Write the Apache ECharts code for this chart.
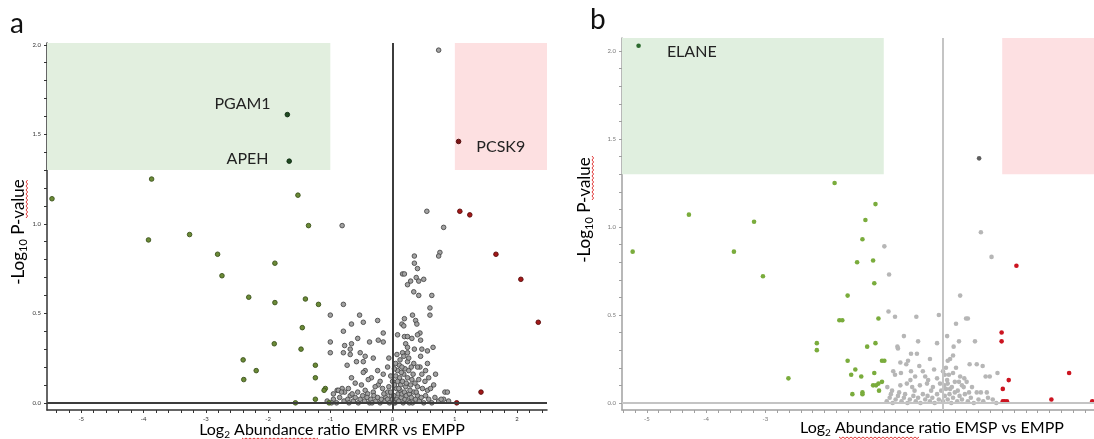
<!DOCTYPE html>
<html>
<head>
<meta charset="utf-8">
<script src="https://cdn.jsdelivr.net/npm/echarts@6/dist/echarts.min.js"></script>
<style>
  html, body { margin: 0; padding: 0; background: #fff; }
  #chart { width: 1094px; height: 439px; }
</style>
</head>
<body>
<div id="chart"></div>
<script>
// ---- Panel a: EMRR vs EMPP (log2 ratio, -log10 p) ----
const aGray = [
  [0.74,1.97],[-0.81,0.99],[0.55,1.07],[0.82,0.98],[-0.79,0.55],
  [0.76,0.84],[0.74,0.82],[0.35,0.82],[0.35,0.78],[0.40,0.75],[0.16,0.72],[0.19,0.72],[0.38,0.70],[0.50,0.69],
  [0.29,0.68],[0.42,0.68],[0.24,0.66],[0.34,0.62],[0.42,0.60],[0.63,0.60],[0.60,0.53],
  [0.60,0.49],[-1.00,0.49],[-0.53,0.49],[-0.47,0.45],[-0.66,0.44],[-0.24,0.46],[0.32,0.49],[0.19,0.47],
  [0.37,0.46],[0.39,0.44],[0.15,0.44],[0.18,0.43],[-0.79,0.40],[-0.15,0.39],[0.08,0.38],[0.44,0.39],
  [0.40,0.38],[0.19,0.37],[0.24,0.37],[0.31,0.36],[-0.56,0.36],[-1.00,0.34],[-0.23,0.35],[-0.15,0.34],
  [-0.37,0.34],[-0.77,0.32],[-0.66,0.33],[0.45,0.35],[0.21,0.33],[0.24,0.31],[0.35,0.30],[0.47,0.30],
  [0.56,0.29],[0.65,0.31],[-0.68,0.30],[-1.00,0.28],[-0.79,0.28],[-0.68,0.27],[-0.52,0.28],[-0.44,0.26],
  [-0.31,0.25],[0.16,0.28],[0.24,0.28],[0.18,0.26],[0.45,0.26],[-0.58,0.23],[-0.47,0.23],[-0.06,0.25],
  [0.24,0.23],[0.34,0.22],[0.56,0.22],[-0.73,0.21],[0.05,0.22],[0.11,0.21],[0.44,0.20],[0.40,0.20],
  [-0.44,0.18],[-0.24,0.18],[-0.08,0.20],[0.53,0.18],[0.69,0.16],[0.47,0.16],[-0.47,0.17],[-0.15,0.16],
  [-0.66,0.14],[-0.34,0.14],[0.11,0.14],[0.18,0.16],[0.24,0.14],[0.31,0.13],[-0.39,0.13],[-0.60,0.11],
  [-0.23,0.10],[-0.16,0.08],[0.08,0.12],[0.13,0.10],[0.21,0.09],[0.29,0.10],[0.40,0.09],[0.48,0.08],
  [0.56,0.07],[0.61,0.08],[0.84,0.06],[0.88,0.06],[-0.89,0.07],[-0.81,0.08],[-0.77,0.06],[-0.56,0.06],
  [-0.44,0.07],[-0.40,0.05],[-0.31,0.06],[-0.08,0.06],[-0.02,0.04],[-0.11,0.03],[0.82,0.02],[0.90,0.01],
  [-0.87,0.07],[-0.82,0.06],
  [-1.05,0.01],[-0.95,0.02],[-0.90,0.00],[-0.85,0.03],[-0.78,0.01],[-0.72,0.02],[-0.68,0.04],[-0.63,0.01],
  [-0.60,0.03],[-0.55,0.00],[-0.52,0.02],[-0.48,0.04],[-0.45,0.01],[-0.41,0.03],[-0.37,0.00],[-0.35,0.02],
  [-0.30,0.04],[-0.27,0.01],[-0.24,0.03],[-0.20,0.00],[-0.18,0.02],[-0.14,0.05],[-0.12,0.01],[-0.08,0.02],
  [-0.05,0.00],[-0.03,0.06],[0.00,0.02],[0.02,0.04],[0.04,0.00],[0.06,0.08],[0.07,0.02],[0.09,0.05],
  [0.10,0.01],[0.12,0.07],[0.14,0.03],[0.15,0.05],[0.17,0.00],[0.19,0.06],[0.20,0.02],[0.22,0.04],
  [0.25,0.01],[0.27,0.05],[0.30,0.03],[0.32,0.00],[0.34,0.06],[0.37,0.02],[0.40,0.04],[0.43,0.01],
  [0.46,0.03],[0.50,0.00],[0.53,0.04],[0.58,0.02],[0.63,0.00],[0.68,0.03],[0.74,0.01],[0.78,0.02],
  [-0.98,0.00],[-0.70,0.00],[-0.33,0.00],[0.02,0.00],[0.27,0.00],
  [0.03,0.10],[0.05,0.15],[0.08,0.18],[0.10,0.08],[0.12,0.24],[0.14,0.17],[0.16,0.12],[0.20,0.19],
  [0.22,0.11],[0.26,0.18],[0.28,0.07],[0.33,0.16],[0.36,0.11],[0.38,0.06],[0.42,0.13],[0.03,0.19],
  [0.00,0.12],[-0.03,0.15],[-0.06,0.09],[0.07,0.27],[0.26,0.25],[0.30,0.20],[0.15,0.20],[0.52,0.12],
  [0.58,0.14],[0.66,0.10],[-0.20,0.12],[-0.28,0.09],[-0.50,0.10],[-0.65,0.05],[-0.95,0.05],[-0.71,0.08]
];
const aGreen = [
  [-5.47,1.14],[-3.87,1.25],[-1.52,1.16],[-3.92,0.91],[-3.26,0.94],[-2.81,0.83],[-2.74,0.71],[-2.31,0.59],
  [-1.89,0.78],[-1.89,0.56],[-1.90,0.33],[-2.40,0.24],[-2.19,0.18],[-2.39,0.13],[-1.56,0.00],[-1.35,0.99],
  [-1.40,0.58],[-1.19,0.55],[-1.45,0.42],[-1.47,0.30],[-1.24,0.21],[-1.24,0.14],[-1.08,0.08],[-1.10,0.07],
  [-1.24,0.02],[-1.02,0.00]
];
const aRed = [[1.08,1.07],[1.24,1.05],[1.66,0.83],[2.06,0.69],[2.34,0.45],[1.42,0.06],[1.03,0.00]];
const aDown = [{ name: 'PGAM1', value: [-1.69, 1.61] }, { name: 'APEH', value: [-1.66, 1.35] }];
const aUp = [{ name: 'PCSK9', value: [1.06, 1.46] }];

// ---- Panel b: EMSP vs EMPP ----
const bGray = [
  [-0.99,0.89],[-0.91,0.73],[0.64,0.97],[0.82,0.83],[-0.92,0.52],[-0.81,0.49],[-0.45,0.49],[-0.07,0.50],
  [0.29,0.61],[0.39,0.48],[0.42,0.48],[0.22,0.45],[0.07,0.38],[0.54,0.35],[0.27,0.35],[0.18,0.32],
  [-0.10,0.34],[-0.42,0.35],[-0.66,0.38],[-0.77,0.32],[-0.44,0.28],[-0.54,0.28],[-0.76,0.31],[-0.22,0.25],
  [0.12,0.25],[0.08,0.24],[0.17,0.27],[-0.72,0.23],[-0.59,0.24],[-0.40,0.21],[-0.62,0.22],[0.45,0.22],
  [0.57,0.22],[0.67,0.21],[-0.15,0.19],[-0.34,0.18],[-0.54,0.18],[-0.84,0.18],[-0.81,0.16],[-0.71,0.17],
  [-0.47,0.15],[-0.30,0.15],[0.03,0.16],[0.17,0.17],[0.29,0.15],[0.72,0.15],[0.79,0.15],[0.92,0.17],
  [0.35,0.09],[0.64,0.06],[0.84,0.02],
  [-0.94,0.09],[-0.86,0.07],[-0.72,0.10],[-0.61,0.11],[-0.74,0.06],[-0.52,0.09],[-0.39,0.10],[-0.27,0.11],
  [-0.17,0.09],[-0.05,0.11],[0.07,0.13],[0.08,0.11],[0.15,0.09],[0.20,0.12],[0.25,0.07],[0.32,0.10],
  [0.40,0.12],[0.49,0.09],[0.57,0.06],[0.74,0.06],[-0.64,0.05],
  [-0.95,0.01],[-0.90,0.03],[-0.85,0.00],[-0.80,0.02],[-0.76,0.04],[-0.70,0.01],[-0.66,0.03],[-0.60,0.00],
  [-0.56,0.02],[-0.50,0.04],[-0.46,0.01],[-0.42,0.03],[-0.38,0.00],[-0.34,0.05],[-0.30,0.02],[-0.26,0.04],
  [-0.22,0.01],[-0.18,0.03],[-0.14,0.00],[-0.10,0.05],[-0.07,0.02],[-0.03,0.07],[0.00,0.01],[0.03,0.04],
  [0.05,0.08],[0.08,0.02],[0.11,0.05],[0.14,0.00],[0.17,0.03],[0.20,0.06],[0.24,0.01],[0.28,0.04],
  [0.32,0.02],[0.37,0.05],[0.42,0.01],[0.47,0.03],[0.52,0.00],[0.60,0.02],[0.68,0.01],[0.76,0.03],
  [0.90,0.00],[-0.88,0.05],[-0.48,0.07],[-0.20,0.07],[0.02,0.10],[0.12,0.08],[0.27,0.12],[0.44,0.06],
  [-0.10,0.14],[0.00,0.18],[0.05,0.20],[0.10,0.16],[-0.25,0.13],[-0.55,0.13],[0.22,0.20],[0.36,0.14]
];
const bGreen = [
  [-4.29,1.07],[-1.83,1.25],[-5.24,0.86],[-3.53,0.86],[-3.19,1.03],[-3.04,0.72],[-1.45,0.80],[-1.61,0.61],
  [-1.75,0.47],[-1.70,0.47],[-2.13,0.34],[-2.13,0.30],[-2.61,0.14],[-1.61,0.24],[-1.48,0.19],[-1.55,0.16],
  [-1.53,0.05],[-1.14,1.13],[-1.31,1.04],[-1.36,0.93],[-1.18,0.81],[-1.16,0.68],[-1.09,0.48],[-1.28,0.32],
  [-1.14,0.34],[-1.03,0.24],[-0.99,0.24],[-1.38,0.15],[-1.16,0.17],[-1.18,0.10],[-1.13,0.10],[-1.09,0.11],
  [-1.03,0.12],[-1.08,0.07],[-1.36,0.06],[-1.36,0.05]
];
const bRed = [
  [1.24,0.78],[0.99,0.40],[0.99,0.35],[1.11,0.13],[1.01,0.08],[1.01,0.01],[1.04,0.01],[1.08,0.01],
  [2.13,0.17],[1.83,0.02],[2.52,0.01]
];
const bDown = [{ name: 'ELANE', value: [-5.14, 2.03] }];
const bNear = [[0.61, 1.39]];

// Thresholds: |log2 ratio| > 1 and p < 0.05
const foldCut = [-1, 1];
const pCut = 1.3;

// Axis ranges and tick labels
const aX = { min: -5.55, max: 2.48 }, aY = { min: -0.04, max: 2.01 };
const bX = { min: -5.42, max: 2.55 }, bY = { min: -0.04, max: 2.074 };
const aXLabels = [-5, -4, -3, -2, -1, 0, 1, 2];
const bXLabels = [-5, -4, -3];
const yLabels = [0, 0.5, 1, 1.5, 2];

function steps(from, to, step) {
  const out = [];
  for (let v = from; v <= to + 1e-9; v += step) out.push(Math.round(v * 100) / 100);
  return out;
}

const FONT = 'Lato, "Open Sans", sans-serif';

function axes(gi, xr, yr, xLabels, axisColor, labelColor) {
  const x = {
    type: 'value', gridIndex: gi, min: xr.min, max: xr.max,
    axisLine: { show: true, onZero: false, lineStyle: { color: axisColor, width: 1.5 } },
    axisTick: { show: true, length: 3, customValues: steps(-5.4, 2.4, 0.2), lineStyle: { color: axisColor } },
    axisLabel: { customValues: xLabels, fontSize: 6, color: labelColor, margin: 6, fontFamily: FONT },
    splitLine: { show: false }
  };
  const y = {
    type: 'value', gridIndex: gi, min: yr.min, max: yr.max,
    axisLine: { show: true, onZero: false, lineStyle: { color: axisColor, width: 1.5 } },
    axisTick: { show: true, length: 3, customValues: steps(0, 2.0, 0.1), lineStyle: { color: axisColor } },
    axisLabel: { customValues: yLabels, fontSize: 6, color: labelColor, margin: 6, fontFamily: FONT,
                 formatter: v => v.toFixed(1) },
    splitLine: { show: false }
  };
  return [x, y];
}

const [ax, ay] = axes(0, aX, aY, aXLabels, '#333', '#333');
const [bx, by] = axes(1, bX, bY, bXLabels, '#a0a0a0', '#777');

function dots(gi, data, size, fill, border, extra) {
  return Object.assign({
    type: 'scatter', xAxisIndex: gi, yAxisIndex: gi, data: data,
    symbolSize: size, silent: true,
    itemStyle: { color: fill, borderColor: border, borderWidth: border ? 0.9 : 0, opacity: 1 }
  }, extra || {});
}

function zeroLines(color) {
  return {
    silent: true, symbol: 'none', animation: false,
    label: { show: false },
    lineStyle: { color: color, width: 2, type: 'solid' },
    data: [{ xAxis: 0 }, { yAxis: 0 }]
  };
}

function regions(xr, yr, green, pink) {
  return {
    silent: true,
    data: [
      [{ xAxis: xr.min, yAxis: pCut, itemStyle: { color: green } }, { xAxis: foldCut[0], yAxis: yr.max }],
      [{ xAxis: foldCut[1], yAxis: pCut, itemStyle: { color: pink } }, { xAxis: xr.max, yAxis: yr.max }]
    ]
  };
}

const labelFont = { fontFamily: FONT, fontSize: 16, color: '#222' };

function wavy(x0, y0, len, vertical) {
  const pts = [];
  for (let i = 0; i <= len; i += 2) {
    const o = (i / 2) % 2 ? 1.6 : 0;
    pts.push(vertical ? [x0 + o, y0 - i] : [x0 + i, y0 + o]);
  }
  return pts;
}

function title(x, y, tail, rot) {
  return {
    type: 'text', x: x, y: y, rotation: rot || 0,
    style: {
      text: '{m|' + (rot ? '-' : '') + 'Log}{s|' + (rot ? '10' : '2') + '}{m|' + tail + '}',
      align: 'center', verticalAlign: 'middle',
      rich: {
        m: { fontFamily: FONT, fontSize: rot ? 17 : 16, color: '#111', lineHeight: 22 },
        s: { fontFamily: FONT, fontSize: rot ? 11 : 10, color: '#111', lineHeight: 22, padding: [9, 0, 0, 0] }
      }
    }
  };
}

function squiggle(points) {
  return { type: 'polyline', shape: { points: points }, style: { stroke: '#e23b3b', lineWidth: 1, fill: null } };
}

const option = {
  animation: false,
  backgroundColor: '#fff',
  grid: [
    { left: 47, top: 43, width: 500, height: 367 },
    { left: 622, top: 38, width: 472, height: 372 }
  ],
  xAxis: [ax, bx],
  yAxis: [ay, by],
  series: [
    dots(0, aGray, 4.6, '#a2a2a2', '#4a4a4a', { markArea: regions(aX, aY, '#e2efdf', '#fde0e1'), markLine: zeroLines('#3c3c3c') }),
    dots(0, aGreen, 4.6, '#6b8a36', '#3b521c'),
    dots(0, aRed, 4.6, '#a31818', '#5a0c0c'),
    dots(0, aDown, 4.6, '#1f4a21', '#102a12', {
      label: { show: true, position: 'left', ...labelFont, formatter: p => p.name },
      data: [
        Object.assign({}, aDown[0], { label: { offset: [-9, -11] } }),
        Object.assign({}, aDown[1], { label: { offset: [-13, -2] } })
      ]
    }),
    dots(0, aUp, 4.6, '#7c1414', '#4a0808', {
      label: { show: true, position: 'right', offset: [10, 5], ...labelFont, formatter: p => p.name }
    }),
    dots(1, bGray, 4.6, '#b6b6b6', null, { markArea: regions(bX, bY, '#e0efdf', '#fde0e2'), markLine: zeroLines('#c4c4c4') }),
    dots(1, bGreen, 4.6, '#7aac3c', null),
    dots(1, bRed, 4.6, '#cc1420', null),
    dots(1, bNear, 4.6, '#5e5e5e', null),
    dots(1, bDown, 4.6, '#2c6a2e', null, {
      label: { show: true, position: 'right', offset: [21, 6], ...labelFont, formatter: p => p.name }
    })
  ],
  graphic: [
    { type: 'text', x: 10, y: 10, style: { text: 'a', fontFamily: FONT, fontSize: 28, fill: '#111' } },
    { type: 'text', x: 590, y: 6, style: { text: 'b', fontFamily: FONT, fontSize: 28, fill: '#111' } },
    title(332, 430, ' Abundance ratio EMRR vs EMPP'),
    title(932, 428, ' Abundance ratio EMSP vs EMPP'),
    title(19, 232, ' P-value', Math.PI / 2),
    title(585, 210, ' P-value', Math.PI / 2),
    squiggle(wavy(242, 438, 76, false)),
    squiggle(wavy(839, 437, 80, false)),
    squiggle(wavy(26, 218, 38, true)),
    squiggle(wavy(592, 200, 44, true))
  ]
};

const chart = echarts.init(document.getElementById('chart'), null, { renderer: 'canvas' });
chart.setOption(option);
</script>
</body>
</html>
